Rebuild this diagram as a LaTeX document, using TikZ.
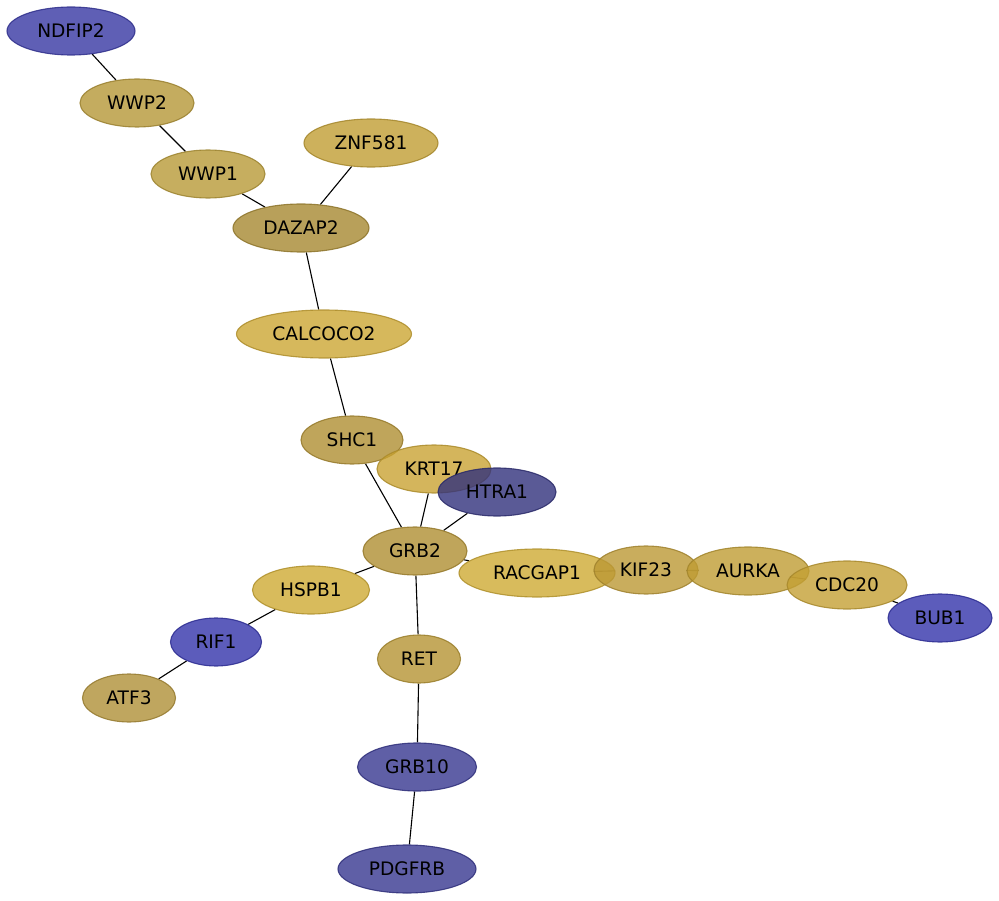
\documentclass[tikz,border=0pt]{standalone}
\usepackage{fontspec}
\setmainfont{DejaVu Sans}
\usetikzlibrary{shapes.geometric,backgrounds}
\definecolor{gA}{RGB}{175,142,50}
\definecolor{gB}{RGB}{166,136,49}
\definecolor{gC}{RGB}{204,166,51}
\definecolor{gD}{RGB}{201,163,51}
\definecolor{gE}{RGB}{206,170,51}
\definecolor{gF}{RGB}{187,152,53}
\definecolor{gG}{RGB}{191,156,51}
\definecolor{gH}{RGB}{196,160,52}
\definecolor{gI}{RGB}{181,151,55}
\definecolor{gJ}{RGB}{184,154,55}
\definecolor{gK}{RGB}{193,158,51}
\definecolor{gL}{RGB}{181,148,51}
\definecolor{gM}{RGB}{175,144,55}
\definecolor{bA}{RGB}{55,55,163}
\definecolor{bB}{RGB}{51,51,170}
\definecolor{bC}{RGB}{55,55,144}
\definecolor{bD}{RGB}{49,49,124}
\tikzset{
  gene/.style args={#1/#2}{ellipse, inner sep=0pt, minimum width=#2pt, minimum height=48pt,
    fill=#1, draw=#1!85!black, fill opacity=0.8, draw opacity=0.85, text opacity=1,
    line width=1.1pt, font=\fontsize{18.6}{21}\selectfont, text=black},
  link/.style={draw=black, line width=1.1pt}
}
\begin{document}
\begin{tikzpicture}[x=1pt,y=-1pt]
\useasboundingbox (0,0) rectangle (999,901);
\node[gene=bA/128] (NDFIP2) at (71,31) {NDFIP2};
\node[gene=gI/114] (WWP2) at (137,103) {WWP2};
\node[gene=gJ/114] (WWP1) at (208,174) {WWP1};
\node[gene=gK/134] (ZNF581) at (371,143) {ZNF581};
\node[gene=gB/136] (DAZAP2) at (301,228) {DAZAP2};
\node[gene=gC/175] (CALCOCO2) at (324,334) {CALCOCO2};
\node[gene=gA/102] (SHC1) at (352,440) {SHC1};
\node[gene=gD/114] (KRT17) at (434,469) {KRT17};
\node[gene=bD/118] (HTRA1) at (497,492) {HTRA1};
\node[gene=gA/104] (GRB2) at (415,551) {GRB2};
\node[gene=gE/156] (RACGAP1) at (537,573) {RACGAP1};
\node[gene=gF/104] (KIF23) at (646,570) {KIF23};
\node[gene=gG/122] (AURKA) at (748,571) {AURKA};
\node[gene=gH/120] (CDC20) at (847,585) {CDC20};
\node[gene=bB/104] (BUB1) at (940,618) {BUB1};
\node[gene=gE/117] (HSPB1) at (311,590) {HSPB1};
\node[gene=bB/91] (RIF1) at (216,642) {RIF1};
\node[gene=gM/93] (ATF3) at (129,698) {ATF3};
\node[gene=gL/83] (RET) at (419,659) {RET};
\node[gene=bC/119] (GRB10) at (417,767) {GRB10};
\node[gene=bC/138] (PDGFRB) at (407,869) {PDGFRB};
\begin{scope}[on background layer]
\draw[link] (NDFIP2) -- (WWP2);
\draw[link] (WWP2) -- (WWP1);
\draw[link] (WWP1) -- (DAZAP2);
\draw[link] (ZNF581) -- (DAZAP2);
\draw[link] (DAZAP2) -- (CALCOCO2);
\draw[link] (CALCOCO2) -- (SHC1);
\draw[link] (SHC1) -- (GRB2);
\draw[link] (KRT17) -- (GRB2);
\draw[link] (HTRA1) -- (GRB2);
\draw[link] (GRB2) -- (RACGAP1);
\draw[link] (GRB2) -- (HSPB1);
\draw[link] (HSPB1) -- (RIF1);
\draw[link] (RIF1) -- (ATF3);
\draw[link] (GRB2) -- (RET);
\draw[link] (RET) -- (GRB10);
\draw[link] (GRB10) -- (PDGFRB);
\draw[link] (RACGAP1) -- (KIF23);
\draw[link] (KIF23) -- (AURKA);
\draw[link] (AURKA) -- (CDC20);
\draw[link] (CDC20) -- (BUB1);
\end{scope}
\end{tikzpicture}
\end{document}
